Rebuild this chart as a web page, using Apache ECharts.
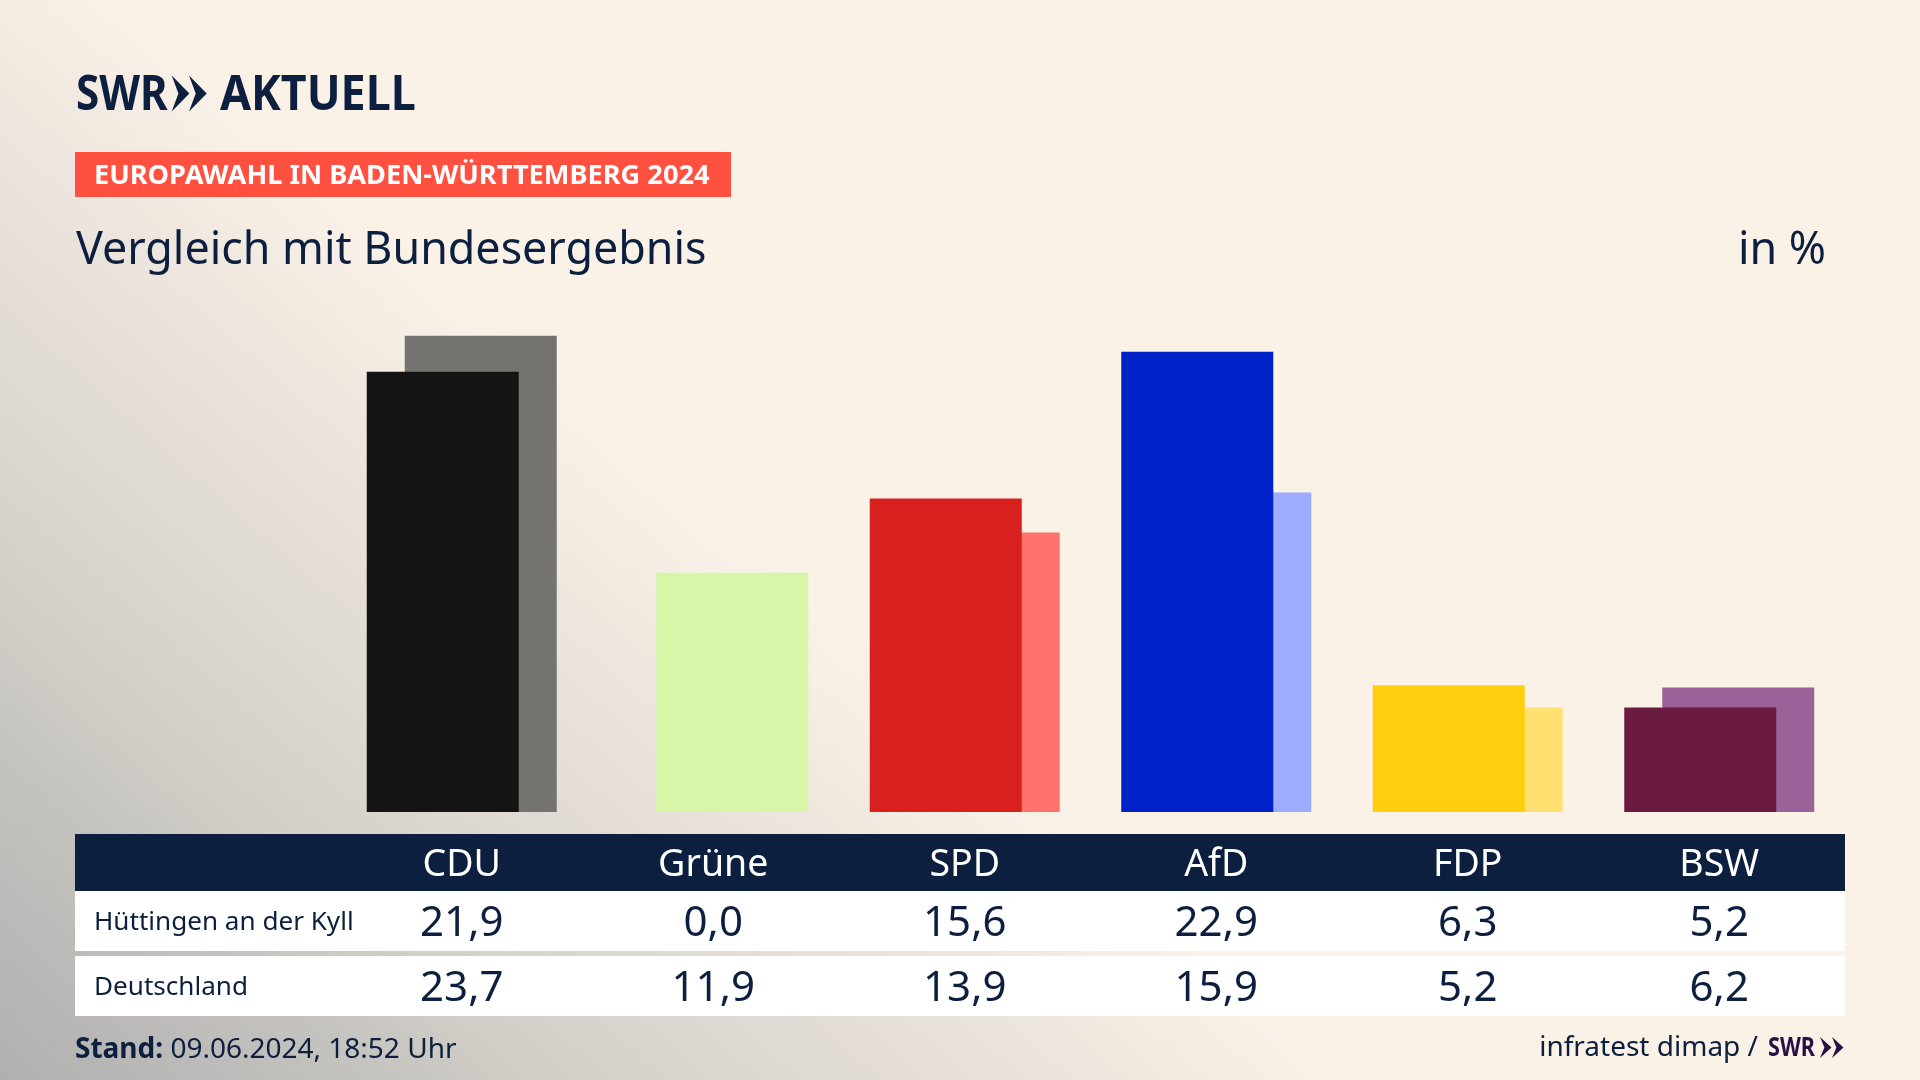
<!DOCTYPE html>
<html>
<head>
<meta charset="utf-8">
<style>
  html, body { margin: 0; padding: 0; }
  #chart { width: 1920px; height: 1080px; }
</style>
<script src="https://cdn.jsdelivr.net/npm/echarts@6/dist/echarts.min.js"></script>
</head>
<body>
<div id="chart"></div>
<script>
var parties = ['CDU', 'Grüne', 'SPD', 'AfD', 'FDP', 'BSW'];
var huettingen = [21.9, 0.0, 15.6, 22.9, 6.3, 5.2];
var deutschland = [23.7, 11.9, 13.9, 15.9, 5.2, 6.2];
var frontColors = ['#141414', '#6ed23c', '#d8201e', '#0020c8', '#ffcf0d', '#6b1a40'];
var backColors = ['#757370', '#d7f6a8', '#ff736c', '#9eacff', '#ffe070', '#9b6199'];

var navy = '#0c1f3f';
var font = '"Noto Sans"';

var fmt = function (v) { return v.toFixed(1).replace('.', ','); };

var labelAxis = function (data, margin, size, color) {
  return {
    type: 'category',
    data: data,
    gridIndex: 0,
    position: 'bottom',
    axisLine: { show: false },
    axisTick: { show: false },
    splitLine: { show: false },
    axisLabel: {
      interval: 0,
      margin: margin,
      verticalAlign: 'middle',
      fontFamily: font,
      fontSize: size,
      color: color
    }
  };
};

var rect = function (x, y, w, h, fill) {
  return { type: 'rect', z: -1, shape: { x: x, y: y, width: w, height: h }, style: { fill: fill } };
};
var text = function (x, y, str, size, weight, color, align, scaleX) {
  return {
    type: 'text', x: x, y: y, z: 5, scaleX: scaleX || 1,
    style: {
      text: str, fontFamily: font, fontSize: size, fontWeight: weight, fill: color,
      textAlign: align || 'left', textVerticalAlign: 'middle'
    }
  };
};
var chevron = function (x, y, w, h, fill) {
  return {
    type: 'polygon', z: 5,
    shape: { points: [[x, y], [x + w, y + h / 2], [x, y + h], [x + w * 0.38, y + h / 2]] },
    style: { fill: fill }
  };
};

var chart = echarts.init(document.getElementById('chart'));
var option = {
  animation: false,
  // diagonal wash from the bottom left corner
  backgroundColor: new echarts.graphic.LinearGradient(0, 1, 0.31, 0.374, [
    { offset: 0, color: '#b0b0b0' },
    { offset: 0.29, color: '#c6c4c0' },
    { offset: 0.37, color: '#cfccc6' },
    { offset: 0.51, color: '#d9d5cf' },
    { offset: 0.73, color: '#e8e1da' },
    { offset: 0.95, color: '#f8f0e6' },
    { offset: 1, color: '#faf2e7' }
  ]),
  grid: { left: 336, width: 1509, top: 309.5, height: 502.5 },
  xAxis: [
    labelAxis(parties, 53, 37.5, '#ffffff'),
    labelAxis(huettingen.map(fmt), 112, 42, navy),
    labelAxis(deutschland.map(fmt), 177, 42, navy)
  ],
  yAxis: { type: 'value', min: 0, max: 25, show: false },
  series: [
    {
      name: 'Hüttingen an der Kyll',
      type: 'bar',
      data: huettingen,
      barWidth: 152,
      barGap: '-75%',
      z: 3,
      itemStyle: { color: function (p) { return frontColors[p.dataIndex]; } }
    },
    {
      name: 'Deutschland',
      type: 'bar',
      data: deutschland,
      barWidth: 152,
      z: 2,
      itemStyle: { color: function (p) { return backColors[p.dataIndex]; } }
    }
  ],
  graphic: [
    rect(75, 152, 656, 45, '#ff5040'),
    rect(75, 834, 1770, 57, navy),
    rect(75, 891, 1770, 60, '#ffffff'),
    rect(75, 956, 1770, 60, '#ffffff'),
    text(76, 96, 'SWR', 49, 700, navy, 'left', 0.86),
    chevron(171.7, 75.5, 17.7, 36, navy),
    chevron(189, 75.5, 17.7, 36, navy),
    text(220, 96, 'AKTUELL', 49, 700, navy, 'left', 0.915),
    text(94, 176, 'EUROPAWAHL IN BADEN-WÜRTTEMBERG 2024', 27.2, 700, '#ffffff'),
    text(76, 251, 'Vergleich mit Bundesergebnis', 44.8, 400, navy),
    text(1826, 251, 'in %', 44.8, 400, navy, 'right'),
    text(94, 923, 'Hüttingen an der Kyll', 26.1, 400, navy),
    text(94, 988, 'Deutschland', 26.1, 400, navy),
    {
      type: 'text', x: 75, y: 1050, z: 5,
      style: {
        text: '{b|Stand:} 09.06.2024, 18:52 Uhr',
        fontFamily: font, fontSize: 28, fill: navy, textVerticalAlign: 'middle',
        rich: { b: { fontFamily: font, fontSize: 28, fontWeight: 700, fill: navy } }
      }
    },
    text(1758, 1048, 'infratest dimap /', 28, 400, navy, 'right'),
    text(1768, 1048, 'SWR', 27, 700, '#2a0f45', 'left', 0.8),
    chevron(1820, 1037, 11.5, 21, '#2a0f45'),
    chevron(1832, 1037, 11.5, 21, '#2a0f45')
  ]
};
chart.setOption(option);
</script>
</body>
</html>
